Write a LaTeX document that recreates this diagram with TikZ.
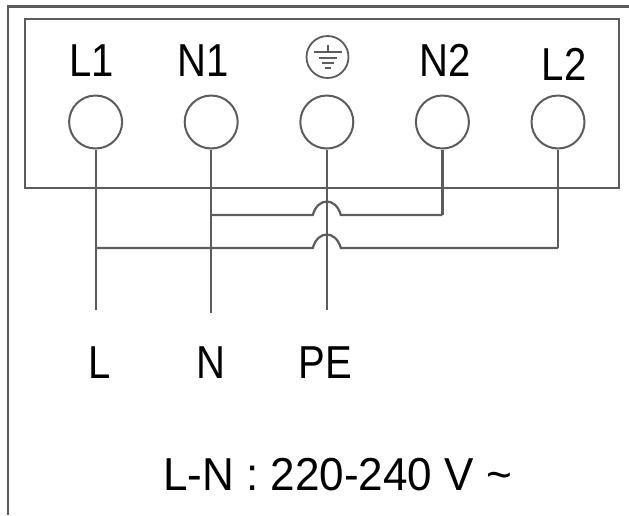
\documentclass[tikz,border=0pt]{standalone}
\usepackage{fontspec}
\setmainfont{Liberation Sans}
\usetikzlibrary{positioning,calc}
\definecolor{wire}{gray}{0.36}
\begin{document}
\begin{tikzpicture}[x=1pt,y=-1pt,semithick,node distance=115.6pt]
\tikzstyle{term}=[circle,draw=wire,line width=2pt,fill=white,minimum size=53pt,inner sep=0pt]
\tikzstyle{tag}=[font=\fontsize{44}{44}\selectfont,text=black,inner sep=0pt,xscale=0.91,yscale=1.05]
\tikzstyle{cable}=[draw=wire,line width=2.2pt]
\useasboundingbox (0,0) rectangle (629,515);
\draw[draw=wire,line width=2.6pt] (629,6.5) -- (8,6.5) -- (8,515);
\node[draw=wire,line width=2.2pt,minimum width=594pt,minimum height=169pt,inner sep=0pt] (box) at (322,103.5) {};
\node[term]    (L1) at (95.6,122)      {};
\node[term]    (N1)[right of=L1]       {};
\node[term]    (E)[right of=N1]        {};
\node[term]    (N2)[right of=E]        {};
\node[term]    (L2)[right of=N2]       {};
\node[tag]     (tL1) at (92,60.5)      {L1};
\node[tag]     (tN1) at (203,60.5)     {N1};
\node[tag]     (tN2) at (445,60.5)     {N2};
\node[tag]     (tL2) at (564,64)       {L2};
\node[tag]     (tL) at (100,363)       {L};
\node[tag]     (tN) at (211,363)       {N};
\node[tag]     (tPE) at (325,363)      {PE};
\node[tag,xscale=1.1] (volt) at (337.5,474.5) {L-N : 220-240 V \char"7E};
% earth symbol
\node[circle,draw=wire,line width=1.8pt,minimum size=42pt,inner sep=0pt] (gnd) at (327.5,57) {};
\coordinate (g0) at ($(gnd)+(0,-12)$);
\coordinate (g1) at ($(gnd)+(0,-5)$);
\draw[wire,line width=2pt] (g0) -- (g1);
\draw[wire,line width=2pt] ($(g1)+(-14,0)$) -- ($(g1)+(14,0)$);
\draw[wire,line width=2pt] ($(g1)+(-9,6)$) -- ($(g1)+(9,6)$);
\draw[wire,line width=2pt] ($(g1)+(-6,11)$) -- ($(g1)+(6,11)$);
\draw[wire,line width=2pt] ($(g1)+(-3,16)$) -- ($(g1)+(3,16)$);
% wire ends
\coordinate (eL) at ($(L1)+(0,188)$);
\coordinate (eN) at ($(N1)+(0,191)$);
\coordinate (eE) at ($(E)+(0,188)$);
\coordinate (jN) at ($(N1)+(0,93)$);
\coordinate (jL) at ($(L1)+(0,126)$);
\coordinate (cN) at (N2 |- jN);
\coordinate (cL) at (L2 |- jL);
\coordinate (hN) at (E.south |- jN);
\coordinate (hL) at (E.south |- jL);
\path[cable]
(L1)    edge[]  (eL)
(N1)    edge[]  (eN)
(E)     edge[]  (eE)
(N2)    edge[]  (cN)
(L2)    edge[]  (cL);
\draw[cable] (jN) -- ($(hN)+(-14,0)$) .. controls ($(hN)+(-9,-18)$) and ($(hN)+(9,-18)$) .. ($(hN)+(14,0)$) -- (cN);
\draw[cable] (jL) -- ($(hL)+(-14,0)$) .. controls ($(hL)+(-9,-18)$) and ($(hL)+(9,-18)$) .. ($(hL)+(14,0)$) -- (cL);
\end{tikzpicture}
\end{document}
